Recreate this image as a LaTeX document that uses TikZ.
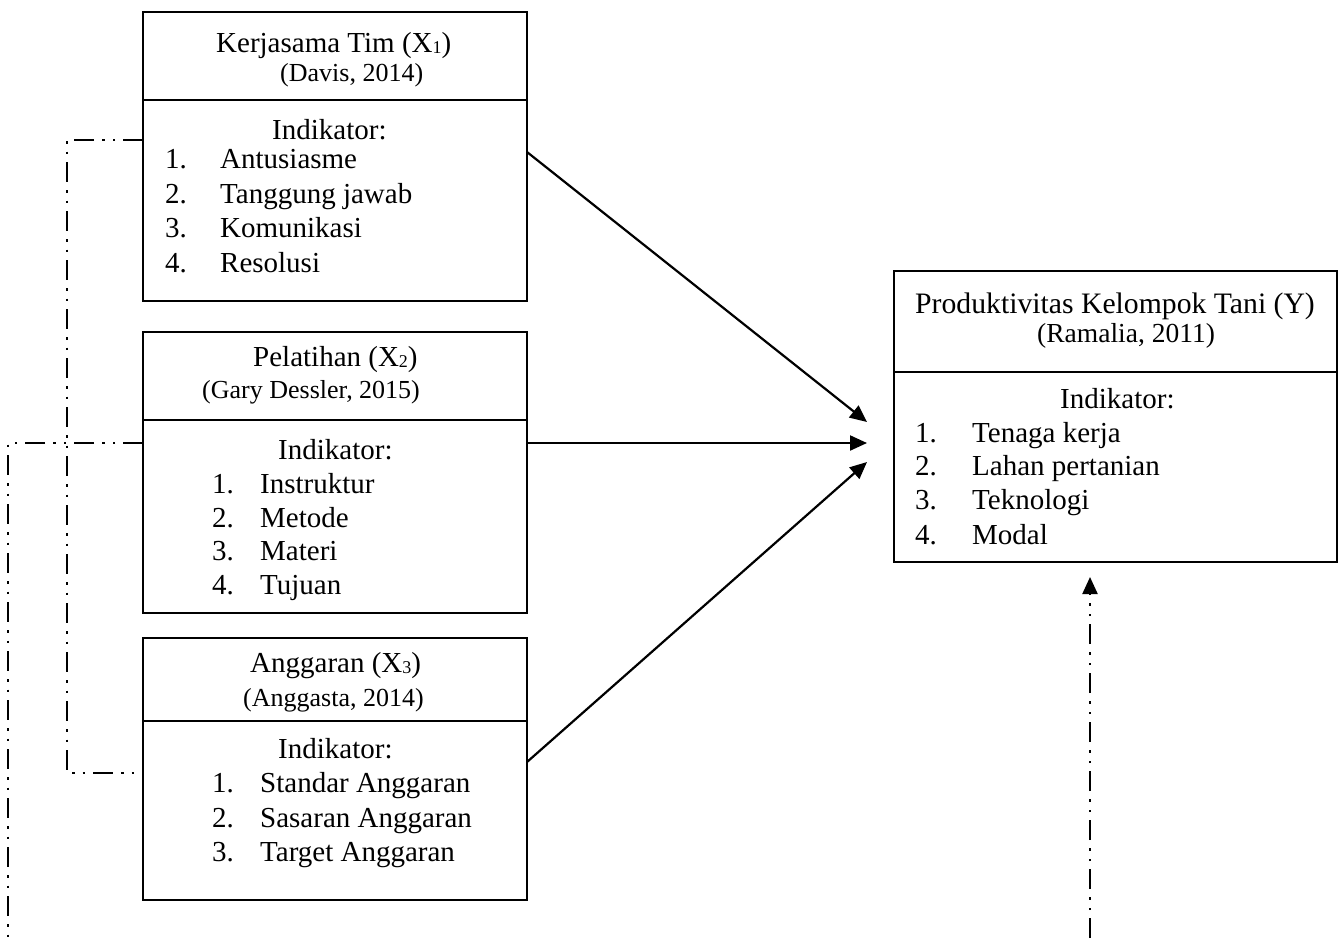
\documentclass[tikz,border=0pt]{standalone}
\usepackage{fontspec}
\setmainfont{Liberation Serif}
\usetikzlibrary{calc,arrows.meta}
\tikzset{
  box/.style={draw, line width=2.3pt, inner sep=0pt, outer sep=0pt, anchor=north west},
  txt/.style={anchor=base west, inner sep=0pt, font=\fontsize{29}{35}\selectfont},
  subtxt/.style={anchor=base west, inner sep=0pt, font=\fontsize{26}{30}\selectfont},
  conn/.style={line width=2.2pt, -{Triangle[length=17pt,width=15pt]}},
  ddot/.style={line width=2.2pt, dash pattern=on 20pt off 8pt on 2.5pt off 8pt on 2.5pt off 8pt},
}
\newcommand{\subnum}[2][18]{\raisebox{-1.5pt}{\fontsize{#1}{#1}\selectfont #2}}
\newcommand{\itm}[2]{\makebox[#1][l]{#2}}
\begin{document}
\begin{tikzpicture}[x=1pt,y=-1pt]
\useasboundingbox (0,0) rectangle (1343,938);
% boxes
\node[box, minimum width=384pt, minimum height=88pt] (b1t) at (143,12) {};
\node[box, minimum width=384pt, minimum height=201pt] (b1b) at (143,100) {};
\node[box, minimum width=384pt, minimum height=88pt] (b2t) at (143,332) {};
\node[box, minimum width=384pt, minimum height=193pt] (b2b) at (143,420) {};
\node[box, minimum width=384pt, minimum height=83pt] (b3t) at (143,638) {};
\node[box, minimum width=384pt, minimum height=179pt] (b3b) at (143,721) {};
\node[box, minimum width=443pt, minimum height=101pt] (yt) at (894,271) {};
\node[box, minimum width=443pt, minimum height=190pt] (yb) at (894,372) {};
% box 1 texts
\node[txt] (t1) at (216,52) {Kerjasama Tim (X\subnum{1})};
\node[subtxt] (s1) at (280,81) {(Davis, 2014)};
\node[txt] (i1) at (272,139) {Indikator:};
\node[txt] (l1a) at (165,168) {\itm{55pt}{1.}Antusiasme};
\node[txt] (l1b) at (165,203) {\itm{55pt}{2.}Tanggung jawab};
\node[txt] (l1c) at (165,237) {\itm{55pt}{3.}Komunikasi};
\node[txt] (l1d) at (165,272) {\itm{55pt}{4.}Resolusi};
% box 2 texts
\node[txt] (t2) at (253,366) {Pelatihan (X\subnum{2})};
\node[subtxt] (s2) at (202,398) {(Gary Dessler, 2015)};
\node[txt] (i2) at (278,459) {Indikator:};
\node[txt] (l2a) at (212,493) {\itm{48pt}{1.}Instruktur};
\node[txt] (l2b) at (212,527) {\itm{48pt}{2.}Metode};
\node[txt] (l2c) at (212,560) {\itm{48pt}{3.}Materi};
\node[txt] (l2d) at (212,594) {\itm{48pt}{4.}Tujuan};
% box 3 texts
\node[txt] (t3) at (250,672) {Anggaran (X\subnum{3})};
\node[subtxt] (s3) at (243,706) {(Anggasta, 2014)};
\node[txt] (i3) at (278,758) {Indikator:};
\node[txt] (l3a) at (212,792) {\itm{48pt}{1.}Standar Anggaran};
\node[txt] (l3b) at (212,827) {\itm{48pt}{2.}Sasaran Anggaran};
\node[txt] (l3c) at (212,861) {\itm{48pt}{3.}Target Anggaran};
% box Y texts
\node[txt, font=\fontsize{29.7}{35}\selectfont] (ty) at (915,313) {Produktivitas Kelompok Tani (Y)};
\node[subtxt, font=\fontsize{27.5}{32}\selectfont] (sy) at (1037,342) {(Ramalia, 2011)};
\node[txt] (iy) at (1060,408) {Indikator:};
\node[txt] (lya) at (915,442) {\itm{57pt}{1.}Tenaga kerja};
\node[txt] (lyb) at (915,475) {\itm{57pt}{2.}Lahan pertanian};
\node[txt] (lyc) at (915,509) {\itm{57pt}{3.}Teknologi};
\node[txt] (lyd) at (915,544) {\itm{57pt}{4.}Modal};
% solid arrows
\draw[conn] ($(b1b.north east)+(0,52)$) -- ($(yb.west)+(-27,-45)$);
\draw[conn] ($(b2b.north east)+(0,23)$) -- ($(yb.west)+(-27,-24)$);
\draw[conn] ($(b3b.north east)+(0,41)$) -- ($(yb.west)+(-27,-5)$);
% dash-dot-dot lines
\coordinate (lbot) at (8,938);
\coordinate (rbot) at (1090,938);
\draw[ddot] ($(b1b.north west)+(0,40)$) -| (67,773) -- ($(b3b.north west)+(0,52)$);
\draw[ddot] ($(b2b.north west)+(0,23)$) -| (lbot);
\draw[ddot, -{Triangle[length=17pt,width=15pt]}] (rbot) -- ($(yb.south)+(-25.5,15)$);
\end{tikzpicture}
\end{document}
